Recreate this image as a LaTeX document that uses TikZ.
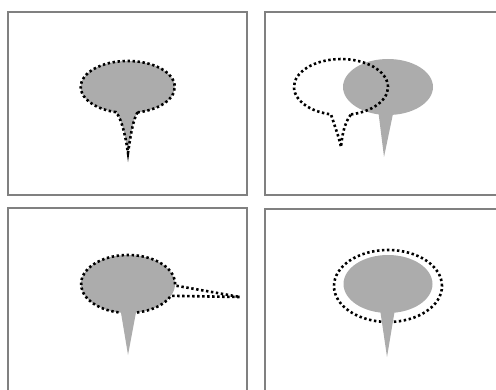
\documentclass[tikz,border=0pt]{standalone}
\definecolor{bubble}{HTML}{ACACAC}
\definecolor{framec}{HTML}{808080}
\tikzset{
  dotline/.style={line width=2.6pt, dash pattern=on 2.4pt off 2.6pt, draw=black},
  framebox/.style={draw=framec, line width=1.2pt},
  grayfill/.style={fill=bubble, draw=none}
}
\begin{document}
\begin{tikzpicture}[x=1pt,y=1pt]
\useasboundingbox (0,0) rectangle (496,389);
\clip (0,0) rectangle (496,389);
% frames
\draw[framebox] (8,194) rectangle (247,377);
\draw[framebox] (265,194) rectangle (505,377);
\draw[framebox] (8,-10) rectangle (247,181);
\draw[framebox] (265,-10) rectangle (505,180);

% panel 1
\draw[dotline, fill=bubble] (137.5,276.6) arc[start angle=282, end angle=615.5, x radius=47, y radius=26]
  .. controls (122,270) and (126,250) .. (128,236)
  .. controls (130,250) and (133,270) .. cycle;

% panel 2
\fill[grayfill] (388,302) ellipse[x radius=45, y radius=28];
\fill[grayfill] (378,280) -- (384,232) -- (394,280) -- cycle;
\draw[dotline] (351,274.6) arc[start angle=282.3, end angle=617.7, x radius=47, y radius=28]
  .. controls (335,262) and (339,252) .. (341,242)
  .. controls (342,252) and (344,266) .. cycle;

% panel 3
\fill[grayfill] (128,105) ellipse[x radius=47, y radius=29];
\fill[grayfill] (120,82) -- (128,34) -- (137,82) -- cycle;
\draw[dotline] (137,76.5) arc[start angle=281, end angle=336, x radius=47, y radius=29]
  -- (240,92) -- (175,103.5)
  arc[start angle=-3, end angle=259, x radius=47, y radius=29];

% panel 4
\draw[dotline] (388,103) ellipse[x radius=54, y radius=36];
\fill[grayfill] (388,105) ellipse[x radius=44.5, y radius=29];
\fill[grayfill] (380,80) -- (387,32) -- (395,80) -- cycle;
\end{tikzpicture}
\end{document}
